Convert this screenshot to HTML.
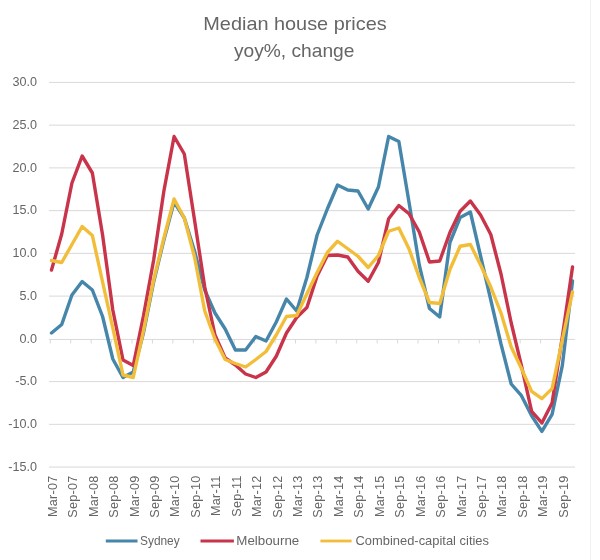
<!DOCTYPE html>
<html><head><meta charset="utf-8"><style>
html,body{margin:0;padding:0;background:#fff;}
body{width:600px;height:560px;overflow:hidden;}
svg{display:block;font-family:"Liberation Sans",sans-serif;filter:blur(0.35px);}
.g{stroke:#d9d9d9;stroke-width:1;fill:none;}
.yl{font-size:12.6px;fill:#666666;}
.xl{font-size:12.6px;fill:#666666;letter-spacing:0.25px;}
.t{font-size:18.6px;fill:#666666;}
.lg{font-size:12.6px;fill:#666666;}
.s{fill:none;stroke-width:3.4;stroke-linejoin:round;stroke-linecap:round;}
</style></head><body>
<svg width="600" height="560" viewBox="0 0 600 560">
<rect width="600" height="560" fill="#fff"/>
<line x1="590.5" y1="0" x2="590.5" y2="560" stroke="#f4f1f1" stroke-width="1"/>
<text x="203.3" y="30.3" class="t" textLength="183.4" lengthAdjust="spacingAndGlyphs">Median house prices</text>
<text x="233.9" y="57.1" class="t" textLength="120.5" lengthAdjust="spacingAndGlyphs">yoy%, change</text>
<line x1="49" y1="82.41" x2="575" y2="82.41" class="g"/><line x1="49" y1="125.15" x2="575" y2="125.15" class="g"/><line x1="49" y1="167.89" x2="575" y2="167.89" class="g"/><line x1="49" y1="210.63" x2="575" y2="210.63" class="g"/><line x1="49" y1="253.37" x2="575" y2="253.37" class="g"/><line x1="49" y1="296.11" x2="575" y2="296.11" class="g"/><line x1="49" y1="381.59" x2="575" y2="381.59" class="g"/><line x1="49" y1="424.33" x2="575" y2="424.33" class="g"/><line x1="49" y1="467.07" x2="575" y2="467.07" class="g"/>
<line x1="49" y1="339.45" x2="575" y2="339.45" class="g"/>
<line x1="50.30" y1="339.45" x2="50.30" y2="343.45" class="g"/><line x1="70.73" y1="339.45" x2="70.73" y2="343.45" class="g"/><line x1="91.16" y1="339.45" x2="91.16" y2="343.45" class="g"/><line x1="111.59" y1="339.45" x2="111.59" y2="343.45" class="g"/><line x1="132.02" y1="339.45" x2="132.02" y2="343.45" class="g"/><line x1="152.45" y1="339.45" x2="152.45" y2="343.45" class="g"/><line x1="172.88" y1="339.45" x2="172.88" y2="343.45" class="g"/><line x1="193.31" y1="339.45" x2="193.31" y2="343.45" class="g"/><line x1="213.74" y1="339.45" x2="213.74" y2="343.45" class="g"/><line x1="234.17" y1="339.45" x2="234.17" y2="343.45" class="g"/><line x1="254.60" y1="339.45" x2="254.60" y2="343.45" class="g"/><line x1="275.03" y1="339.45" x2="275.03" y2="343.45" class="g"/><line x1="295.46" y1="339.45" x2="295.46" y2="343.45" class="g"/><line x1="315.89" y1="339.45" x2="315.89" y2="343.45" class="g"/><line x1="336.32" y1="339.45" x2="336.32" y2="343.45" class="g"/><line x1="356.75" y1="339.45" x2="356.75" y2="343.45" class="g"/><line x1="377.18" y1="339.45" x2="377.18" y2="343.45" class="g"/><line x1="397.61" y1="339.45" x2="397.61" y2="343.45" class="g"/><line x1="418.04" y1="339.45" x2="418.04" y2="343.45" class="g"/><line x1="438.47" y1="339.45" x2="438.47" y2="343.45" class="g"/><line x1="458.90" y1="339.45" x2="458.90" y2="343.45" class="g"/><line x1="479.33" y1="339.45" x2="479.33" y2="343.45" class="g"/><line x1="499.76" y1="339.45" x2="499.76" y2="343.45" class="g"/><line x1="520.19" y1="339.45" x2="520.19" y2="343.45" class="g"/><line x1="540.62" y1="339.45" x2="540.62" y2="343.45" class="g"/><line x1="561.05" y1="339.45" x2="561.05" y2="343.45" class="g"/>
<text x="37" y="86.11" text-anchor="end" class="yl">30.0</text><text x="37" y="128.85" text-anchor="end" class="yl">25.0</text><text x="37" y="171.59" text-anchor="end" class="yl">20.0</text><text x="37" y="214.33" text-anchor="end" class="yl">15.0</text><text x="37" y="257.07" text-anchor="end" class="yl">10.0</text><text x="37" y="299.81" text-anchor="end" class="yl">5.0</text><text x="37" y="342.55" text-anchor="end" class="yl">0.0</text><text x="37" y="385.29" text-anchor="end" class="yl">-5.0</text><text x="37" y="428.03" text-anchor="end" class="yl">-10.0</text><text x="37" y="470.77" text-anchor="end" class="yl">-15.0</text>
<text transform="translate(56.90,475.5) rotate(-90)" text-anchor="end" class="xl">Mar-07</text><text transform="translate(77.33,475.5) rotate(-90)" text-anchor="end" class="xl">Sep-07</text><text transform="translate(97.76,475.5) rotate(-90)" text-anchor="end" class="xl">Mar-08</text><text transform="translate(118.19,475.5) rotate(-90)" text-anchor="end" class="xl">Sep-08</text><text transform="translate(138.62,475.5) rotate(-90)" text-anchor="end" class="xl">Mar-09</text><text transform="translate(159.05,475.5) rotate(-90)" text-anchor="end" class="xl">Sep-09</text><text transform="translate(179.48,475.5) rotate(-90)" text-anchor="end" class="xl">Mar-10</text><text transform="translate(199.91,475.5) rotate(-90)" text-anchor="end" class="xl">Sep-10</text><text transform="translate(220.34,475.5) rotate(-90)" text-anchor="end" class="xl">Mar-11</text><text transform="translate(240.77,475.5) rotate(-90)" text-anchor="end" class="xl">Sep-11</text><text transform="translate(261.20,475.5) rotate(-90)" text-anchor="end" class="xl">Mar-12</text><text transform="translate(281.63,475.5) rotate(-90)" text-anchor="end" class="xl">Sep-12</text><text transform="translate(302.06,475.5) rotate(-90)" text-anchor="end" class="xl">Mar-13</text><text transform="translate(322.49,475.5) rotate(-90)" text-anchor="end" class="xl">Sep-13</text><text transform="translate(342.92,475.5) rotate(-90)" text-anchor="end" class="xl">Mar-14</text><text transform="translate(363.35,475.5) rotate(-90)" text-anchor="end" class="xl">Sep-14</text><text transform="translate(383.78,475.5) rotate(-90)" text-anchor="end" class="xl">Mar-15</text><text transform="translate(404.21,475.5) rotate(-90)" text-anchor="end" class="xl">Sep-15</text><text transform="translate(424.64,475.5) rotate(-90)" text-anchor="end" class="xl">Mar-16</text><text transform="translate(445.07,475.5) rotate(-90)" text-anchor="end" class="xl">Sep-16</text><text transform="translate(465.50,475.5) rotate(-90)" text-anchor="end" class="xl">Mar-17</text><text transform="translate(485.93,475.5) rotate(-90)" text-anchor="end" class="xl">Sep-17</text><text transform="translate(506.36,475.5) rotate(-90)" text-anchor="end" class="xl">Mar-18</text><text transform="translate(526.79,475.5) rotate(-90)" text-anchor="end" class="xl">Sep-18</text><text transform="translate(547.22,475.5) rotate(-90)" text-anchor="end" class="xl">Mar-19</text><text transform="translate(567.65,475.5) rotate(-90)" text-anchor="end" class="xl">Sep-19</text>
<polyline class="s" stroke="#4686aa" points="51.50,333.00 61.72,324.50 71.93,295.00 82.15,281.50 92.36,290.00 102.58,316.50 112.80,359.00 123.01,377.50 133.23,372.00 143.44,333.00 153.66,282.00 163.88,240.00 174.09,202.00 184.31,218.00 194.52,251.00 204.74,290.00 214.96,313.00 225.17,329.00 235.39,350.00 245.60,350.00 255.82,336.50 266.04,341.00 276.25,322.00 286.47,299.00 296.68,311.00 306.90,277.50 317.12,235.00 327.33,209.00 337.55,185.00 347.76,190.00 357.98,191.00 368.20,209.00 378.41,187.00 388.63,136.50 398.84,141.50 409.06,202.50 419.28,265.00 429.49,308.50 439.71,317.00 449.92,242.50 460.14,217.50 470.36,212.00 480.57,256.00 490.79,300.00 501.00,344.00 511.22,384.00 521.44,395.70 531.65,415.70 541.87,431.40 552.08,414.30 562.30,365.70 572.52,281.00"/>
<polyline class="s" stroke="#c8344a" points="51.50,270.00 61.72,234.00 71.93,183.00 82.15,156.00 92.36,173.00 102.58,235.00 112.80,310.00 123.01,360.00 133.23,365.50 143.44,316.00 153.66,260.00 163.88,191.00 174.09,136.50 184.31,154.00 194.52,220.00 204.74,287.00 214.96,335.00 225.17,358.00 235.39,365.00 245.60,374.00 255.82,377.50 266.04,372.00 276.25,356.25 286.47,333.00 296.68,317.50 306.90,307.50 317.12,276.00 327.33,255.50 337.55,255.00 347.76,257.00 357.98,271.25 368.20,281.25 378.41,262.50 388.63,218.75 398.84,205.50 409.06,213.75 419.28,232.00 429.49,262.00 439.71,261.00 449.92,232.50 460.14,211.25 470.36,201.00 480.57,215.00 490.79,234.50 501.00,274.00 511.22,323.00 521.44,365.70 531.65,411.40 541.87,422.90 552.08,402.90 562.30,337.00 572.52,267.00"/>
<polyline class="s" stroke="#f2be3a" points="51.50,260.50 61.72,262.50 71.93,244.50 82.15,226.50 92.36,235.50 102.58,282.00 112.80,328.00 123.01,375.00 133.23,377.50 143.44,331.00 153.66,280.00 163.88,238.00 174.09,199.00 184.31,218.00 194.52,257.00 204.74,311.00 214.96,339.00 225.17,359.50 235.39,363.50 245.60,367.00 255.82,359.50 266.04,351.50 276.25,335.00 286.47,316.50 296.68,315.50 306.90,293.75 317.12,272.50 327.33,252.50 337.55,241.25 347.76,248.75 357.98,256.25 368.20,267.50 378.41,255.50 388.63,231.25 398.84,228.00 409.06,249.00 419.28,277.50 429.49,302.50 439.71,303.50 449.92,269.50 460.14,246.25 470.36,244.50 480.57,265.00 490.79,287.00 501.00,313.00 511.22,347.00 521.44,368.60 531.65,391.40 541.87,398.60 552.08,388.60 562.30,340.00 572.52,292.00"/>
<line x1="105.8" y1="541" x2="137.5" y2="541" stroke="#4686aa" stroke-width="2.8"/>
<text x="140" y="544.7" class="lg" textLength="39.7" lengthAdjust="spacingAndGlyphs">Sydney</text>
<line x1="200.5" y1="541" x2="233.9" y2="541" stroke="#c8344a" stroke-width="2.8"/>
<text x="236.3" y="544.7" class="lg" textLength="63" lengthAdjust="spacingAndGlyphs">Melbourne</text>
<line x1="320.4" y1="541" x2="351.6" y2="541" stroke="#f2be3a" stroke-width="2.8"/>
<text x="355.5" y="544.7" class="lg" textLength="133.5" lengthAdjust="spacingAndGlyphs">Combined-capital cities</text>
</svg>
</body></html>
